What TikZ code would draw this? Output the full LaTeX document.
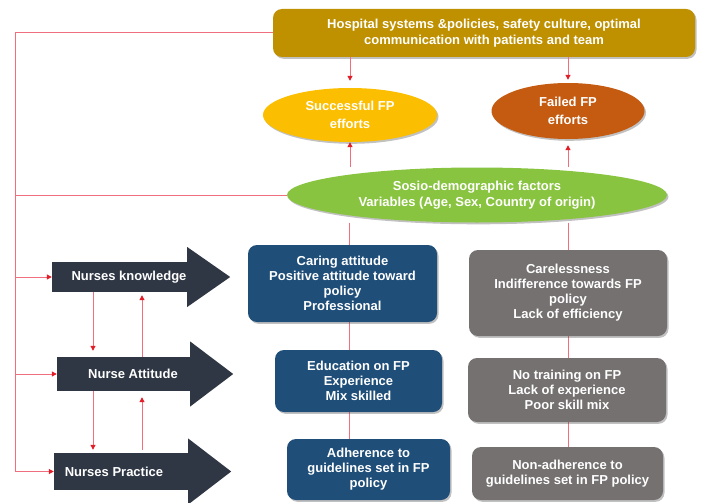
\documentclass[tikz,border=0pt]{standalone}
\usepackage{fontspec}
\setmainfont{Liberation Sans}
\usetikzlibrary{shapes.geometric,arrows.meta,shadows,backgrounds}
\definecolor{gold}{RGB}{191,144,0}
\definecolor{yel}{RGB}{252,190,0}
\definecolor{orng}{RGB}{197,90,17}
\definecolor{grn}{RGB}{137,196,64}
\definecolor{blu}{RGB}{31,78,121}
\definecolor{gry}{RGB}{118,113,113}
\definecolor{drk}{RGB}{48,55,68}
\definecolor{linec}{RGB}{240,110,125}
\definecolor{arrred}{RGB}{225,30,40}
\begin{document}
\begin{tikzpicture}[x=1pt,y=-1pt,
  font=\fontsize{13}{15}\selectfont\bfseries,
  shad/.style={drop shadow={shadow xshift=1.5pt,shadow yshift=-1.8pt,opacity=0.35,fill=black!70}},
  box/.style={rectangle,rounded corners=9pt,text=white,align=center,inner sep=0pt,shad},
  ell/.style={ellipse,text=white,align=center,inner sep=0pt,shad},
  body/.style={rectangle,fill=drk,inner sep=0pt},
  btext/.style={text=white,inner sep=0pt},
  pline/.style={color=linec,line width=1pt},
  parrow/.style={color=linec,line width=1pt,-{Triangle[length=5pt,width=5pt,color=arrred]}}
]
\useasboundingbox (0,0) rectangle (701,503);

% top box
\node[box,fill=gold,minimum width=422pt,minimum height=48pt,font=\fontsize{13}{16}\selectfont\bfseries] (top) at (484,33)
  {Hospital systems \&policies, safety culture, optimal\\communication with patients and team};

% ellipses
\node[ell,fill=yel,minimum width=174pt,minimum height=54pt,font=\fontsize{13}{18}\selectfont\bfseries] (succ) at (350,115) {Successful FP\\efforts};
\node[ell,fill=orng,minimum width=153pt,minimum height=56pt,font=\fontsize{13}{18}\selectfont\bfseries] (fail) at (568,111) {Failed FP\\efforts};
\node[ell,fill=grn,minimum width=380pt,minimum height=55pt,font=\fontsize{13}{16}\selectfont\bfseries] (sosio) at (477,195)
  {Sosio-demographic factors\\Variables (Age, Sex, Country of origin)};

% blue boxes
\node[box,fill=blu,minimum width=189pt,minimum height=77pt] (car) at (342.5,283.5)
  {Caring attitude\\Positive attitude toward\\policy\\Professional};
\node[box,fill=blu,minimum width=167pt,minimum height=62pt] (edu) at (358.5,381)
  {Education on FP\\Experience\\Mix skilled};
\node[box,fill=blu,minimum width=163pt,minimum height=61pt] (adh) at (368.5,469.5)
  {Adherence to\\guidelines set in FP\\policy};

% gray boxes
\node[box,fill=gry,minimum width=198pt,minimum height=86pt] (careless) at (568,293)
  {Carelessness\\Indifference towards FP\\policy\\Lack of efficiency};
\node[box,fill=gry,minimum width=198pt,minimum height=64pt] (notrain) at (567,390)
  {No training on FP\\Lack of experience\\Poor skill mix};
\node[box,fill=gry,minimum width=191pt,minimum height=53pt] (nonadh) at (567.5,473.5)
  {Non-adherence to\\guidelines set in FP policy};

% dark arrows
\node[body,minimum width=135pt,minimum height=30pt] (kn) at (119.5,277) {};
\fill[drk] (kn.east) ++(0,-30) -- ++(43,30) -- ++(-43,30) -- cycle;
\node[btext] (knt) at (129,277) {Nurses knowledge};

\node[body,minimum width=133pt,minimum height=34pt] (att) at (123.5,374) {};
\fill[drk] (att.east) ++(0,-32.5) -- ++(43,32.5) -- ++(-43,32.5) -- cycle;
\node[btext] (attt) at (133,374) {Nurse Attitude};

\node[body,minimum width=134pt,minimum height=37pt] (pra) at (121,471.5) {};
\fill[drk] (pra.east) ++(0,-33) -- ++(43,33) -- ++(-43,33) -- cycle;
\node[btext] (prat) at (114,471.5) {Nurses Practice};

% coordinates
\coordinate (lx) at (15,0);
\coordinate (dx) at (93,0);
\coordinate (ux) at (142,0);
\coordinate (bx) at (349,0);
\coordinate (gx) at (568,0);

\begin{pgfonlayer}{background}
  % vertical chains
  \draw[pline] (sosio.south -| bx) -- (car.north -| bx);
  \draw[pline] (car.south -| bx) -- (edu.north -| bx);
  \draw[pline] (edu.south -| bx) -- (adh.north -| bx);
  \draw[pline] (sosio.south -| gx) -- (careless.north -| gx);
  \draw[pline] (careless.south -| gx) -- (notrain.north -| gx);
  \draw[pline] (notrain.south -| gx) -- (nonadh.north -| gx);
\end{pgfonlayer}

% left feedback lines
\draw[pline] (top.west) -- (top.west -| lx) -- (pra.west -| lx);
\draw[pline] (sosio.west) -- (sosio.west -| lx);

% arrows top -> ellipses
\draw[parrow,shorten >=7pt] (top.south -| succ.north) -- (succ.north);
\draw[parrow,shorten >=3pt] (top.south -| fail.north) -- (fail.north);
% arrows sosio -> ellipses
\draw[parrow] (sosio.north -| succ.south) -- (succ.south);
\draw[parrow,shorten >=6pt] (sosio.north -| fail.south) -- (fail.south);

% left arrows
\draw[parrow] (kn.west -| lx) -- (kn.west);
\draw[parrow] (att.west -| lx) -- (att.west);
\draw[parrow] (pra.west -| lx) -- (pra.west);

% arrows between nurse arrows
\draw[parrow,shorten >=6pt] (kn.south -| dx) -- (att.north -| dx);
\draw[parrow,shorten >=3pt] (att.north -| ux) -- (kn.south -| ux);
\draw[parrow,shorten >=3pt] (att.south -| dx) -- (pra.north -| dx);
\draw[parrow,shorten >=6pt,shorten <=3pt] (pra.north -| ux) -- (att.south -| ux);
\end{tikzpicture}
\end{document}
